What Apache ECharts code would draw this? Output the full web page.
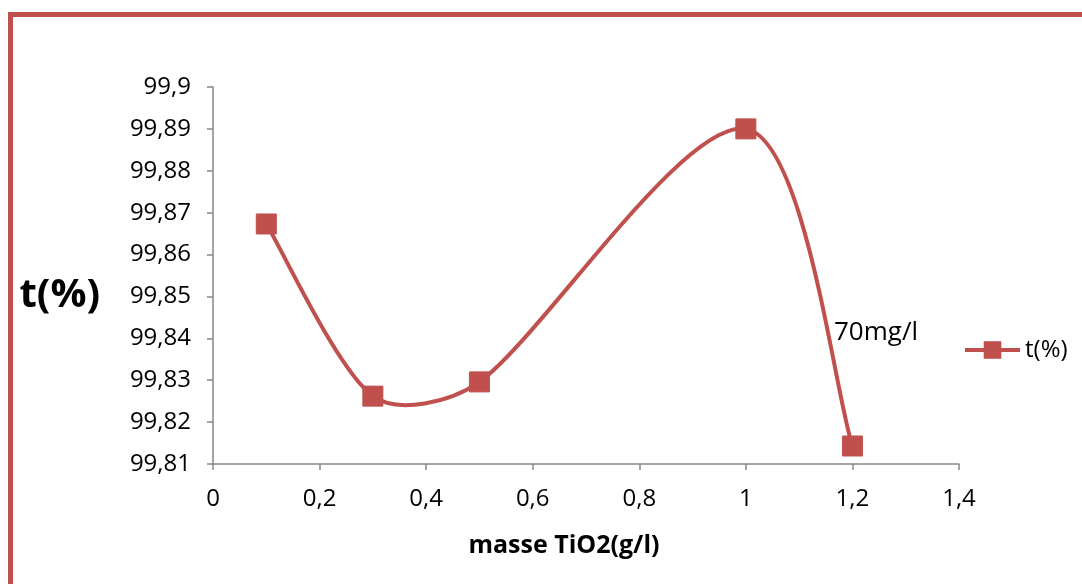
<!DOCTYPE html>
<html>
<head>
<meta charset="utf-8">
<script src="https://cdn.jsdelivr.net/npm/echarts@6/dist/echarts.min.js"></script>
<style>
  html, body { margin: 0; padding: 0; background: #ffffff; }
  #chart { width: 1082px; height: 584px; }
</style>
</head>
<body>
<div id="chart"></div>
<script>
// Taux t(%) en fonction de la masse de TiO2 (g/l), concentration initiale 70 mg/l
const masse = [0.1, 0.3, 0.5, 1.0, 1.2];
const taux = [99.8673, 99.8262, 99.8296, 99.89, 99.8143];
const seriesName = 't(%)';
const annotation = '70mg/l';

const RED = '#c0504d';
const AXIS = '#868686';
const FONT = '"Open Sans", "Noto Sans", sans-serif';

const comma = v => String(+(+v).toFixed(2)).replace('.', ',');

const dist = (a, b) => Math.hypot(b[0] - a[0], b[1] - a[1]);

// Smoothed curve: cubic Bezier segments whose control points follow the
// Catmull-Rom tangent (1/6 of the neighbour chord), computed in pixel space,
// shortened when the current segment is much shorter than its neighbour.
function renderSegment(params, api) {
  const i = params.dataIndex;
  const n = masse.length;
  if (i >= n - 1) return null;
  const clampIdx = k => Math.max(0, Math.min(n - 1, k));
  const pt = k => api.coord([masse[clampIdx(k)], taux[clampIdx(k)]]);
  const p0 = pt(i - 1), p1 = pt(i), p2 = pt(i + 1), p3 = pt(i + 2);
  const d01 = dist(p0, p1), d12 = dist(p1, p2), d23 = dist(p2, p3);
  const kOut = Math.min(1, 2 * d12 / (d01 + d12));
  const kIn = Math.min(1, 2 * d12 / (d12 + d23));
  const f = 1 / 6;
  return {
    type: 'bezierCurve',
    shape: {
      x1: p1[0], y1: p1[1],
      cpx1: p1[0] + (p2[0] - p0[0]) * f * kOut, cpy1: p1[1] + (p2[1] - p0[1]) * f * kOut,
      cpx2: p2[0] - (p3[0] - p1[0]) * f * kIn, cpy2: p2[1] - (p3[1] - p1[1]) * f * kIn,
      x2: p2[0], y2: p2[1]
    },
    style: { stroke: RED, lineWidth: 4, fill: null, lineCap: 'round' }
  };
}

const points = masse.map((x, i) => [x, taux[i]]);

const chart = echarts.init(document.getElementById('chart'), null, { renderer: 'canvas' });

chart.setOption({
  animation: false,
  backgroundColor: '#ffffff',
  grid: { left: 213, right: 123, top: 87, bottom: 120 },
  legend: {
    data: [seriesName],
    left: 958,
    top: 333,
    itemWidth: 55,
    itemHeight: 22,
    lineStyle: { color: RED, width: 4, opacity: 1, type: 'solid' },
    textStyle: { fontFamily: FONT, fontSize: 24, color: '#000' }
  },
  xAxis: {
    type: 'value',
    min: 0, max: 1.4, interval: 0.2,
    name: 'masse TiO2(g/l)',
    nameLocation: 'middle',
    nameGap: 69,
    nameTextStyle: { fontFamily: FONT, fontSize: 25, fontWeight: 'bold', color: '#000', padding: [0, 44, 0, 0] },
    axisLine: { lineStyle: { color: AXIS, width: 1.5 } },
    axisTick: { show: true, inside: false, length: 6, lineStyle: { color: AXIS, width: 1.5 } },
    axisLabel: { margin: 23, fontFamily: FONT, fontSize: 24, color: '#000', formatter: comma },
    splitLine: { show: false }
  },
  yAxis: {
    type: 'value',
    min: 99.81, max: 99.9, interval: 0.01,
    name: 't(%)',
    nameLocation: 'middle',
    nameRotate: 0,
    nameGap: 113,
    nameTextStyle: { fontFamily: FONT, fontSize: 40, fontWeight: 'bold', color: '#000', verticalAlign: 'top' },
    axisLine: { show: true, lineStyle: { color: AXIS, width: 1.5 } },
    axisTick: { show: true, inside: false, length: 6, lineStyle: { color: AXIS, width: 1.5 } },
    axisLabel: { margin: 22, fontFamily: FONT, fontSize: 24, color: '#000', formatter: comma },
    splitLine: { show: false }
  },
  series: [
    {
      type: 'custom',
      data: points,
      renderItem: renderSegment,
      silent: true,
      z: 2
    },
    {
      name: seriesName,
      type: 'line',
      data: points,
      symbol: 'rect',
      symbolSize: 20,
      showAllSymbol: true,
      lineStyle: { opacity: 0 },
      itemStyle: { color: RED, borderColor: RED },
      z: 3
    }
  ],
  graphic: [
    {
      type: 'rect',
      shape: { x: 10.5, y: 14.5, width: 1200, height: 700 },
      style: { fill: null, stroke: RED, lineWidth: 5 },
      silent: true
    },
    {
      type: 'text',
      left: 834,
      top: 320,
      style: { text: annotation, fontFamily: FONT, fontSize: 26, fill: '#000' }
    }
  ]
});
</script>
</body>
</html>
